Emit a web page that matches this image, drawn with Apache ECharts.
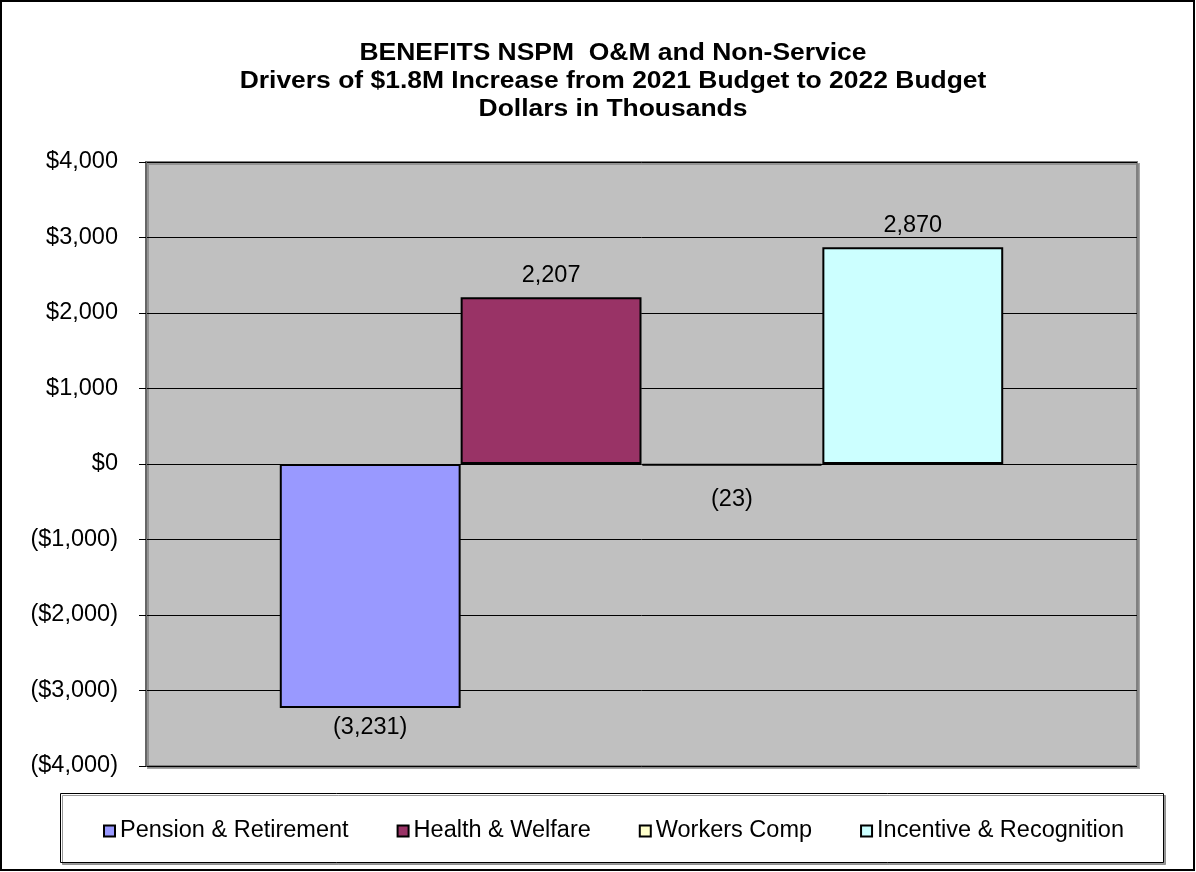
<!DOCTYPE html>
<html>
<head>
<meta charset="utf-8">
<title>Benefits NSPM O&amp;M and Non-Service</title>
<script src="https://cdn.jsdelivr.net/npm/echarts@6/dist/echarts.min.js"></script>
<style>
  html, body { margin: 0; padding: 0; background: #fff; }
  #chart { width: 1196px; height: 872px; }
</style>
</head>
<body>
<div id="chart"></div>
<script>
// Benefit cost drivers, dollars in thousands
const categories = ['2022 vs 2021'];
const seriesNames = ['Pension & Retirement', 'Health & Welfare', 'Workers Comp', 'Incentive & Recognition'];
const seriesValues = [-3231, 2207, -23, 2870];
const seriesColors = ['#9999FF', '#993366', '#FFFFCC', '#CCFFFF'];
const titleLines = [
  'BENEFITS NSPM  O&M and Non-Service',
  'Drivers of $1.8M Increase from 2021 Budget to 2022 Budget',
  'Dollars in Thousands'
];
const yMin = -4000, yMax = 4000, yStep = 1000;

const FONT = '"Liberation Sans", Arial, sans-serif';
const BODY_SIZE = 23.5;

function thousands(v) {
  return Math.abs(v).toString().replace(/\B(?=(\d{3})+(?!\d))/g, ',');
}
function money(v) {
  return v < 0 ? '($' + thousands(v) + ')' : '$' + thousands(v);
}
function plain(v) {
  return v < 0 ? '(' + thousands(v) + ')' : thousands(v);
}

const chart = echarts.init(document.getElementById('chart'), null, { renderer: 'canvas' });

const series = seriesNames.map((name, i) => {
  const v = seriesValues[i];
  const small = Math.abs(v) < 200;
  return {
    name: name,
    type: 'bar',
    data: [v],
    barGap: '0%',
    barCategoryGap: '27%',
    itemStyle: { color: seriesColors[i], borderColor: '#000', borderWidth: 2 },
    label: {
      show: true,
      position: v < 0 ? 'bottom' : 'top',
      distance: v < 0 ? (small ? 22 : 8) : 10,
      formatter: p => plain(p.value),
      color: '#000',
      fontFamily: FONT,
      fontSize: BODY_SIZE
    },
    emphasis: { disabled: true }
  };
});

// Title: three centred bold lines, drawn slightly wide
const titleGraphics = titleLines.map((line, i) => ({
  type: 'text',
  x: 613,
  y: 54 + i * 28,
  scaleX: 1.15,
  z: 50,
  silent: true,
  style: {
    text: line,
    fill: '#000',
    font: 'bold 23px ' + FONT,
    textAlign: 'center',
    textVerticalAlign: 'middle'
  }
}));

chart.setOption({
  animation: false,
  backgroundColor: '#fff',
  grid: {
    left: 146,
    top: 162,
    right: 59,
    bottom: 106,
    show: true,
    backgroundColor: '#C0C0C0',
    borderColor: '#808080',
    borderWidth: 2,
    shadowColor: 'rgba(128,128,128,0.7)',
    shadowOffsetX: 2,
    shadowOffsetY: 2,
    shadowBlur: 0
  },
  legend: {
    data: seriesNames,
    left: 98,
    top: 814,
    itemWidth: 11,
    itemHeight: 11,
    itemGap: 48,
    icon: 'rect',
    itemStyle: { borderColor: '#000', borderWidth: 2 },
    textStyle: { fontFamily: FONT, fontSize: BODY_SIZE, color: '#000' },
    selectedMode: false
  },
  xAxis: {
    type: 'category',
    data: categories,
    axisLine: { show: false },
    axisTick: { show: false },
    axisLabel: { show: false },
    splitLine: { show: false }
  },
  yAxis: {
    type: 'value',
    min: yMin,
    max: yMax,
    interval: yStep,
    axisLine: { show: true, onZero: false, lineStyle: { color: '#666', width: 2 } },
    axisTick: { show: true, length: 7, lineStyle: { color: '#000', width: 1 } },
    axisLabel: {
      margin: 28,
      formatter: money,
      color: '#000',
      fontFamily: FONT,
      fontSize: BODY_SIZE
    },
    splitLine: { show: true, lineStyle: { color: '#000', width: 1 } }
  },
  graphic: [
    {
      type: 'rect',
      z: -10,
      shape: { x: 60.5, y: 793.5, width: 1103, height: 69 },
      style: {
        fill: '#fff',
        stroke: '#000',
        lineWidth: 1,
        shadowColor: 'rgba(128,128,128,0.8)',
        shadowOffsetX: 2,
        shadowOffsetY: 2,
        shadowBlur: 0
      },
      silent: true
    },
    {
      type: 'rect',
      z: 100,
      shape: { x: 1, y: 1, width: 1193, height: 869 },
      style: { fill: 'none', stroke: '#000', lineWidth: 2 },
      silent: true
    }
  ].concat(titleGraphics),
  series: series
});
</script>
</body>
</html>
